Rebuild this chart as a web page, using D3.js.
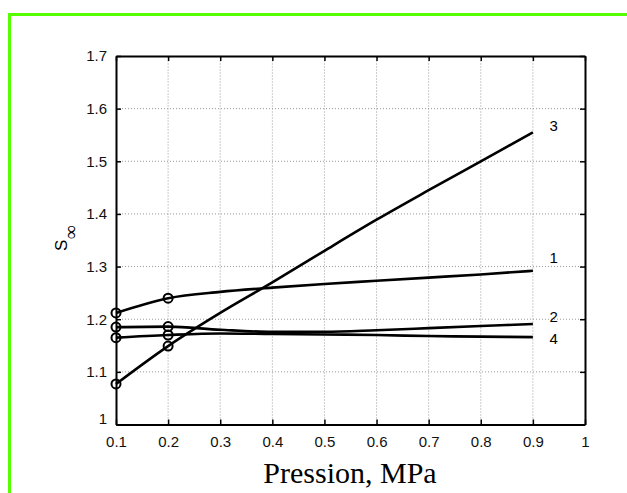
<!DOCTYPE html>
<html>
<head>
<meta charset="utf-8">
<script src="https://cdn.jsdelivr.net/npm/d3@7"></script>
<style>
  body { margin: 0; background: #fff; }
</style>
</head>
<body>
<svg id="chart" width="627" height="493"></svg>
<script>
// values
const pressure = [0.1, 0.2, 0.3, 0.4, 0.5, 0.6, 0.7, 0.8, 0.9];
const curve1 = [1.212, 1.240, 1.252, 1.260, 1.267, 1.273, 1.279, 1.285, 1.292];
const curve2 = [1.185, 1.186, 1.180, 1.176, 1.176, 1.179, 1.183, 1.187, 1.191];
const curve3 = [1.077, 1.149, 1.212, 1.270, 1.330, 1.389, 1.445, 1.500, 1.555];
const curve4 = [1.165, 1.170, 1.173, 1.172, 1.171, 1.170, 1.168, 1.167, 1.166];
const curveNames = ['1', '2', '3', '4'];
const labelY = [1.316, 1.204, 1.567, 1.162];
const markerP = [0.1, 0.2];
const xTicks = [0.1, 0.2, 0.3, 0.4, 0.5, 0.6, 0.7, 0.8, 0.9, 1];
const yTicks = [1, 1.1, 1.2, 1.3, 1.4, 1.5, 1.6, 1.7];

const sans = '"Liberation Sans", Arial, sans-serif';
const serif = '"Liberation Serif", "Times New Roman", serif';

const svg = d3.select('#chart');
const x = d3.scaleLinear().domain([0.1, 1]).range([116, 585]);
const y = d3.scaleLinear().domain([1, 1.7]).range([424.5, 56]);

// green frame
svg.append('path')
    .attr('d', 'M9.5,493 V14.5 H627')
    .attr('fill', 'none')
    .attr('stroke', '#55ff00')
    .attr('stroke-width', 3);

// grid
const grid = svg.append('g').attr('stroke', '#999').attr('stroke-width', 1).attr('stroke-dasharray', '1,2');
grid.selectAll('.gx').data(xTicks.slice(1, -1)).join('line')
    .attr('x1', d => x(d)).attr('x2', d => x(d))
    .attr('y1', y(1)).attr('y2', y(1.7));
grid.selectAll('.gy').data(yTicks.slice(1, -1)).join('line')
    .attr('x1', x(0.1)).attr('x2', x(1))
    .attr('y1', d => y(d)).attr('y2', d => y(d));

// axes, ticks inward
const fmt = d => String(+d.toFixed(1));
svg.append('g').attr('transform', `translate(0,${y(1)})`)
    .call(d3.axisBottom(x).tickValues(xTicks).tickSizeInner(-5).tickSizeOuter(0).tickPadding(12).tickFormat(fmt));
const left = svg.append('g').attr('transform', `translate(${x(0.1)},0)`)
    .call(d3.axisLeft(y).tickValues(yTicks).tickSizeInner(-5).tickSizeOuter(0).tickPadding(9).tickFormat(fmt));
svg.append('g').attr('transform', `translate(0,${y(1.7)})`)
    .call(d3.axisTop(x).tickValues(xTicks).tickSizeInner(-5).tickSizeOuter(0).tickFormat(''));
svg.append('g').attr('transform', `translate(${x(1)},0)`)
    .call(d3.axisRight(y).tickValues(yTicks).tickSizeInner(-5).tickSizeOuter(0).tickFormat(''));
svg.selectAll('.domain').attr('stroke', '#000').attr('stroke-width', 2);
svg.selectAll('.tick line').attr('stroke', '#000').attr('stroke-width', 1.5);
svg.selectAll('.tick text').style('font-size', '15px').style('font-family', sans).attr('fill', '#111');
left.selectAll('.tick').filter(d => d === 1).select('text').attr('dy', '-0.05em');

// curves
const series = [curve1, curve2, curve3, curve4];
const line = d3.line().x((d, i) => x(pressure[i])).y(d => y(d)).curve(d3.curveMonotoneX);
svg.append('g').selectAll('path').data(series).join('path')
    .attr('d', d => line(d))
    .attr('fill', 'none')
    .attr('stroke', '#000')
    .attr('stroke-width', 2.6);

// circle markers at the measured pressures
const marks = [];
series.forEach(s => markerP.forEach(p => marks.push({ p, v: s[pressure.indexOf(p)] })));
svg.append('g').selectAll('circle').data(marks).join('circle')
    .attr('cx', d => x(d.p)).attr('cy', d => y(d.v)).attr('r', 4.5)
    .attr('fill', 'none').attr('stroke', '#000').attr('stroke-width', 2);

// curve numbers
svg.append('g').selectAll('text').data(curveNames).join('text')
    .attr('x', x(0.94)).attr('y', (d, i) => y(labelY[i]))
    .attr('dy', '0.35em')
    .attr('text-anchor', 'middle')
    .style('font-family', sans)
    .style('font-size', '15px')
    .text(d => d);

// axis titles
svg.append('text')
    .attr('x', 350).attr('y', 483)
    .attr('text-anchor', 'middle')
    .style('font-family', serif)
    .style('font-size', '30px')
    .text('Pression, MPa');

const yl = svg.append('text')
    .attr('transform', 'translate(67,251) rotate(-90)')
    .style('font-family', sans)
    .style('font-size', '17px');
yl.append('tspan').text('S');
yl.append('tspan').attr('dx', 1).attr('dy', 10)
    .style('font-family', serif).style('font-size', '19px').style('font-weight', 'bold')
    .text('∞');
</script>
</body>
</html>
